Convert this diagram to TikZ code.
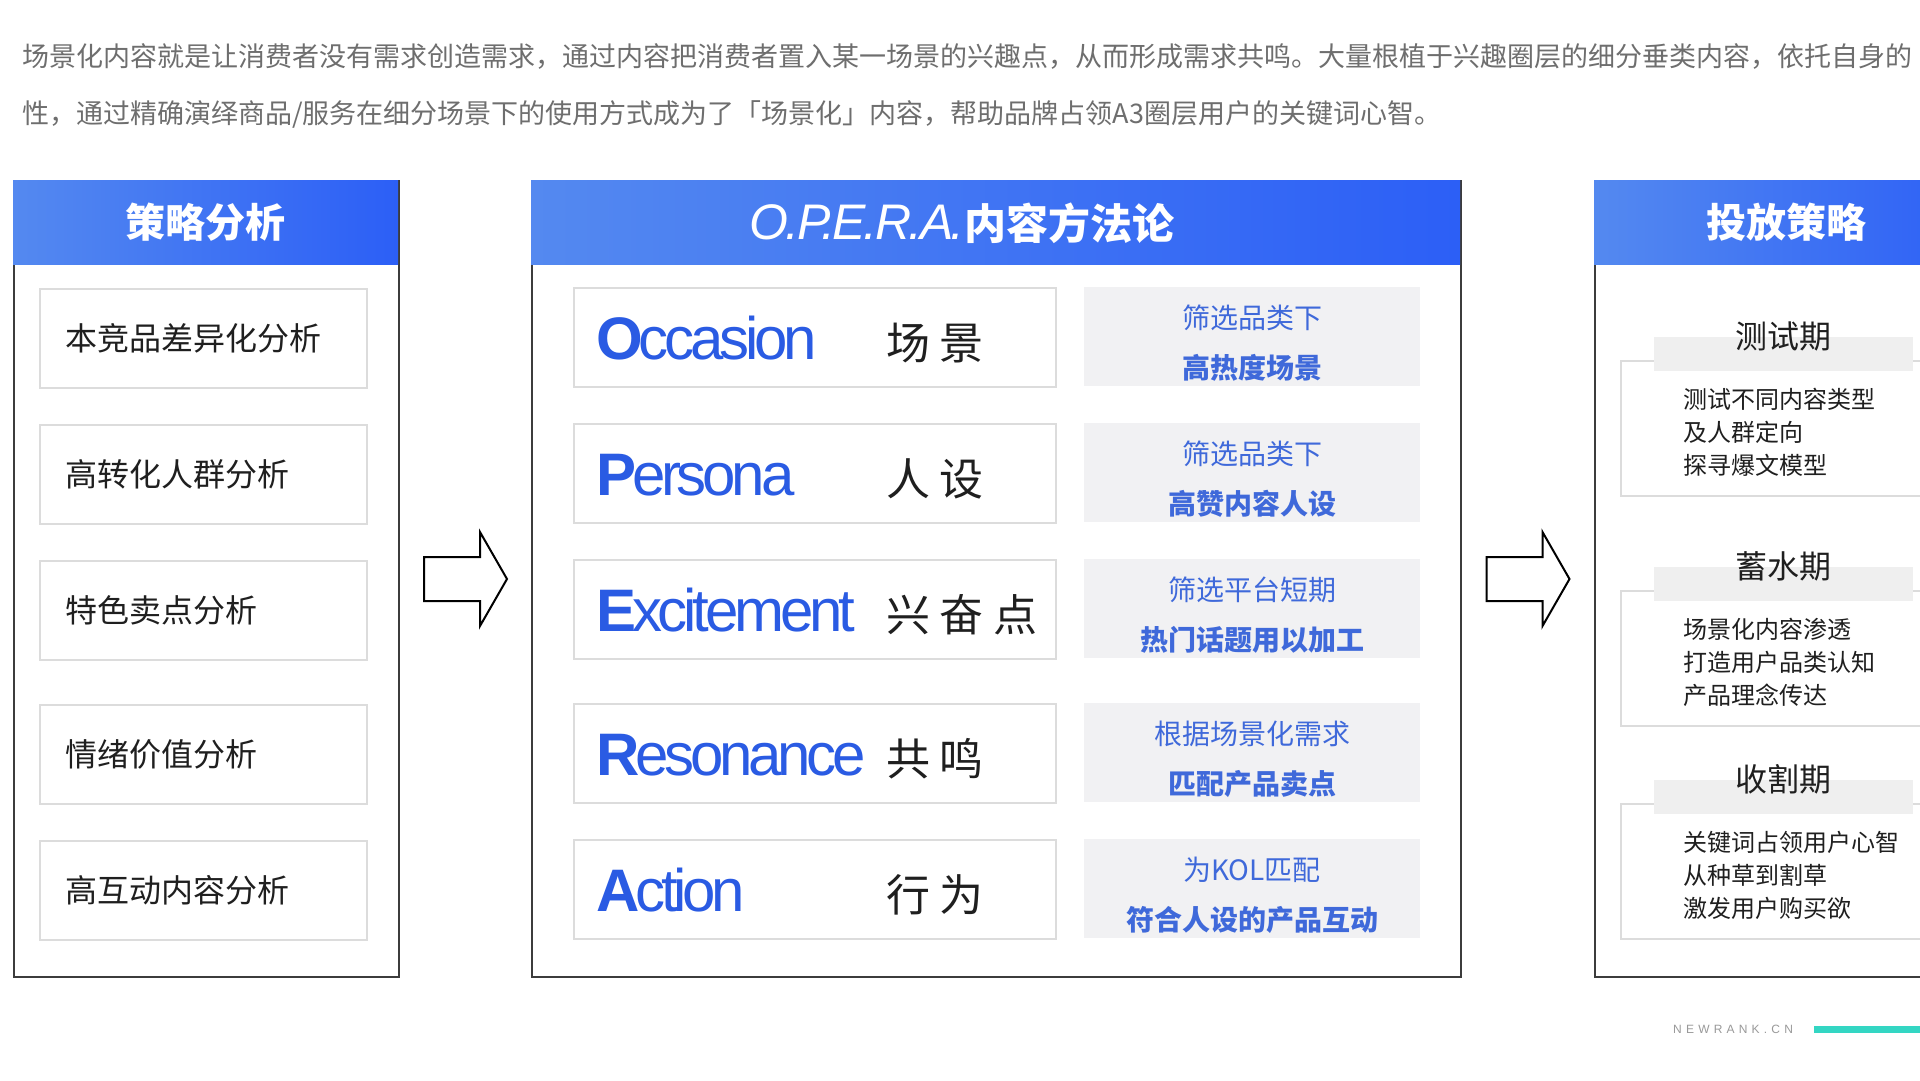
\documentclass[tikz,border=0pt]{standalone}
\usepackage{fontspec}
\setmainfont{Noto Sans CJK SC}
\newfontfamily\wordfont[LetterSpace=-7]{Liberation Sans}
\newfontfamily\operafont[LetterSpace=-5]{Liberation Sans}
\newfontfamily\wideface[LetterSpace=22]{Noto Sans CJK SC}
\newfontfamily\sitefont[LetterSpace=35]{Liberation Sans}
\usetikzlibrary{calc}

\definecolor{headleft}{HTML}{5489F0}
\definecolor{headright}{HTML}{2C5FF6}
\definecolor{opblue}{HTML}{2A5BE3}
\definecolor{descblue}{HTML}{3F69DA}
\definecolor{panelline}{HTML}{3C3C3C}
\definecolor{boxline}{HTML}{DCDCDC}
\definecolor{greyfill}{HTML}{F1F1F3}
\definecolor{bandgrey}{HTML}{EFEFEF}
\definecolor{textdark}{HTML}{1F1F1F}
\definecolor{introgrey}{HTML}{6E6E6E}
\definecolor{barteal}{HTML}{33D6C3}

\tikzset{
  panelbox/.style={draw=panelline,line width=2pt,fill=white,anchor=north west,
    minimum width=385,minimum height=796,inner sep=0pt},
  headbox/.style={left color=headleft,right color=headright,anchor=north west,
    minimum height=84,inner sep=0pt,text=white,font=\fontsize{40}{40}\selectfont\bfseries},
  itembox/.style={draw=boxline,line width=1.5pt,fill=white,anchor=north west,
    minimum width=327,minimum height=99,inner sep=0pt},
  itemtext/.style={anchor=west,inner sep=0pt,text=textdark,font=\fontsize{32}{32}\selectfont},
  rowword/.style={anchor=base west,inner sep=0pt,text=opblue,font=\wordfont\fontsize{60}{60}\selectfont},
  rowcjk/.style={anchor=west,inner sep=0pt,text=textdark,font=\wideface\fontsize{44}{44}\selectfont},
  descbox/.style={fill=greyfill,anchor=north west,minimum width=336,minimum height=99,inner sep=0pt},
  desctext/.style={inner sep=0pt,text=descblue,font=\fontsize{28}{28}\selectfont},
  phasebox/.style={draw=boxline,line width=1.5pt,fill=white,anchor=north west,
    minimum width=400,minimum height=135,inner sep=0pt},
  phasetitle/.style={inner sep=0pt,text=textdark,font=\fontsize{32}{32}\selectfont},
  phasetext/.style={anchor=west,align=left,inner sep=0pt,text=textdark,font=\fontsize{24}{33}\selectfont},
  blockarrow/.style={draw=black,line width=2pt,fill=white,line join=miter},
  introtext/.style={anchor=west,inner sep=0pt,text=introgrey,font=\fontsize{27}{27}\selectfont}
}

\begin{document}
\begin{tikzpicture}[x=1pt,y=-1pt]
  \clip (0,0) rectangle (1920,1080);
  \fill[white] (0,0) rectangle (1920,1080);

  % intro
  \node[introtext] (intro1) at (22,57) {场景化内容就是让消费者没有需求创造需求，通过内容把消费者置入某一场景的兴趣点，从而形成需求共鸣。大量根植于兴趣圈层的细分垂类内容，依托自身的};
  \node[introtext] (intro2) at (22,114) {性，通过精确演绎商品/服务在细分场景下的使用方式成为了「场景化」内容，帮助品牌占领A3圈层用户的关键词心智。};

  % the three panels
  \node[panelbox] (left) at (13,180) {};
  \node[panelbox,minimum width=929] (mid) at (531,180) {};
  \node[panelbox] (right) at (1594,180) {};
  \node[headbox,minimum width=385] (lefthead) at (13,180) {策略分析};
  \node[headbox,minimum width=929] (midhead) at (531,180) {};
  \node[headbox,minimum width=385] (righthead) at (1594,180) {投放策略};
  \node[inner sep=0pt,text=white] (midtitle) at (962,223)
    {{\operafont\itshape\fontsize{50}{50}\selectfont O.P.E.R.A.}{\fontsize{42}{42}\selectfont\bfseries 内容方法论}};

  % analysis items
  \foreach \txt/\yy [count=\i] in {本竞品差异化分析/288, 高转化人群分析/424, 特色卖点分析/560,
      情绪价值分析/704, 高互动内容分析/840} {
    \node[itembox] (item\i) at (39,\yy) {};
    \node[itemtext] (itemtext\i) at ($(item\i.west)+(26,0)$) {\txt};
  }

  % O.P.E.R.A. rows
  \foreach \wa/\wb/\zh/\la/\lb/\yy [count=\i] in {
      O/ccasion/场景/筛选品类下/高热度场景/287,
      P/ersona/人设/筛选品类下/高赞内容人设/423,
      E/xcitement/兴奋点/筛选平台短期/热门话题用以加工/559,
      R/esonance/共鸣/根据场景化需求/匹配产品卖点/703,
      A/ction/行为/为KOL匹配/符合人设的产品互动/839} {
    \node[itembox,minimum width=482] (row\i) at (573,\yy) {};
    \node[rowword] (word\i) at ($(row\i.north west)+(23,72)$) {\textbf{\wa}\wb};
    \node[rowcjk] (cjk\i) at ($(row\i.north west)+(313,56)$) {\zh};
    \node[descbox] (desc\i) at (1084,\yy) {};
    \node[desctext] (desca\i) at ($(desc\i.north)+(0,31)$) {\la};
    \node[desctext,font=\fontsize{28}{28}\selectfont\bfseries] (descb\i) at ($(desc\i.north)+(0,81)$) {\lb};
  }

  % block arrows between panels
  \coordinate (gap1) at ($(left.east)!0.5!(mid.west)$);
  \coordinate (gap2) at ($(mid.east)!0.5!(right.west)$);
  \foreach \g in {gap1,gap2}
    \draw[blockarrow] (\g) ++(-41.5,-22) -- ++(56,0) -- ++(0,-25) -- ++(27,47)
      -- ++(-27,47) -- ++(0,-25) -- ++(-56,0) -- cycle;

  % launch phases
  \foreach \txt/\yy/\la/\lb/\lc [count=\i] in {
      测试期/360/测试不同内容类型/及人群定向/探寻爆文模型,
      蓄水期/590/场景化内容渗透/打造用户品类认知/产品理念传达,
      收割期/803/关键词占领用户心智/从种草到割草/激发用户购买欲} {
    \node[phasebox] (phase\i) at (1620,\yy) {};
    \fill[bandgrey] (1654,\yy-23) rectangle (1913,\yy+11);
    \node[phasetitle] (title\i) at (1783,\yy-24) {\txt};
    \node[phasetext] (lines\i) at ($(phase\i.north west)+(63,72)$) {\la\\\lb\\\lc};
  }

  % footer
  \node[anchor=west,inner sep=0pt,text=gray!80,font=\sitefont\fontsize{12}{12}\selectfont] (site) at (1673,1029) {NEWRANK.CN};
  \fill[barteal] ($(site.east)+(21,-3)$) rectangle (1925,1033);
\end{tikzpicture}
\end{document}
